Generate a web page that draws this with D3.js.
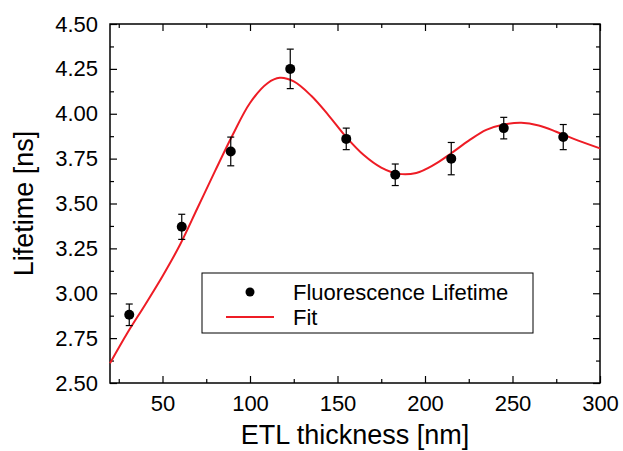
<!DOCTYPE html>
<html>
<head>
<meta charset="utf-8">
<script src="https://cdn.jsdelivr.net/npm/d3@7"></script>
<style>
  body { margin: 0; background: #fff; }
  svg text { font-family: "Liberation Sans", Arial, sans-serif; fill: #000; }
</style>
</head>
<body>
<svg id="chart" width="623" height="451"></svg>
<script>
const thickness = [31, 61, 89, 123, 155, 183, 215, 245, 279];
const lifetime = [2.88, 3.37, 3.79, 4.25, 3.86, 3.66, 3.75, 3.92, 3.87];
const lifetimeErr = [0.06, 0.07, 0.08, 0.11, 0.06, 0.06, 0.09, 0.06, 0.07];

// fit curve
const fitX = [20, 30, 40, 50, 60, 70, 80, 90, 100, 110, 117, 125, 135, 145, 155, 165, 175, 185, 195, 205, 215, 225, 235, 245, 255, 265, 275, 285, 300];
const fitY = [2.61, 2.78, 2.935, 3.095, 3.27, 3.475, 3.68, 3.88, 4.06, 4.17, 4.20, 4.18, 4.10, 3.99, 3.87, 3.77, 3.70, 3.665, 3.67, 3.715, 3.78, 3.85, 3.91, 3.94, 3.95, 3.935, 3.90, 3.86, 3.807];

const xTicks = [50, 100, 150, 200, 250, 300];
const xMinor = [25, 75, 125, 175, 225, 275];
const yTicks = [2.5, 2.75, 3.0, 3.25, 3.5, 3.75, 4.0, 4.25, 4.5];
const yMinor = [2.625, 2.875, 3.125, 3.375, 3.625, 3.875, 4.125, 4.375];

const margin = {top: 24, right: 23, bottom: 68, left: 110};
const width = 623 - margin.left - margin.right;
const height = 451 - margin.top - margin.bottom;

const svg = d3.select('#chart');
const chart = svg.append('g')
    .attr('transform', `translate(${margin.left}, ${margin.top})`);

const xScale = d3.scaleLinear().domain([20, 300]).range([0, width]);
const yScale = d3.scaleLinear().domain([2.5, 4.5]).range([height, 0]);

// frame + inward ticks on all four sides
function tickAxis(axis, values, size, labels) {
  return axis.tickValues(values).tickSizeInner(-size).tickSizeOuter(0)
    .tickPadding(labels ? 12 : 0)
    .tickFormat(labels ? labels : () => '');
}

chart.append('g').attr('transform', `translate(0, ${height})`)
  .call(tickAxis(d3.axisBottom(xScale), xTicks, 7, d3.format('d')));
chart.append('g').attr('transform', `translate(0, ${height})`)
  .call(tickAxis(d3.axisBottom(xScale), xMinor, 4));
chart.append('g').call(tickAxis(d3.axisTop(xScale), xTicks, 7));
chart.append('g').call(tickAxis(d3.axisTop(xScale), xMinor, 4));

chart.append('g')
  .call(tickAxis(d3.axisLeft(yScale), yTicks, 7, d3.format('.2f')));
chart.append('g').call(tickAxis(d3.axisLeft(yScale), yMinor, 4));
chart.append('g').attr('transform', `translate(${width}, 0)`)
  .call(tickAxis(d3.axisRight(yScale), yTicks, 7));
chart.append('g').attr('transform', `translate(${width}, 0)`)
  .call(tickAxis(d3.axisRight(yScale), yMinor, 4));

chart.selectAll('.domain').remove();
chart.selectAll('.tick line').attr('stroke', '#000').attr('stroke-width', 1.2);
chart.selectAll('.tick text').style('font-size', '22px').attr('fill', '#000');

chart.append('rect')
  .attr('width', width).attr('height', height)
  .attr('fill', 'none').attr('stroke', '#000').attr('stroke-width', 1.5);

// fit line
const line = d3.line()
  .x((d, i) => xScale(fitX[i]))
  .y(d => yScale(d))
  .curve(d3.curveCatmullRom.alpha(0.5));

chart.append('path')
  .datum(fitY)
  .attr('d', line)
  .attr('fill', 'none')
  .attr('stroke', '#ee1c25')
  .attr('stroke-width', 2);

// error bars
const pts = thickness.map((t, i) => ({x: t, y: lifetime[i], e: lifetimeErr[i]}));
const eb = chart.append('g').selectAll('g').data(pts).enter().append('g')
  .attr('stroke', '#000').attr('stroke-width', 1.2);
eb.append('line')
  .attr('x1', d => xScale(d.x)).attr('x2', d => xScale(d.x))
  .attr('y1', d => yScale(d.y - d.e)).attr('y2', d => yScale(d.y + d.e));
eb.append('line')
  .attr('x1', d => xScale(d.x) - 3.5).attr('x2', d => xScale(d.x) + 3.5)
  .attr('y1', d => yScale(d.y + d.e)).attr('y2', d => yScale(d.y + d.e));
eb.append('line')
  .attr('x1', d => xScale(d.x) - 3.5).attr('x2', d => xScale(d.x) + 3.5)
  .attr('y1', d => yScale(d.y - d.e)).attr('y2', d => yScale(d.y - d.e));

chart.append('g').selectAll('circle').data(pts).enter().append('circle')
  .attr('cx', d => xScale(d.x))
  .attr('cy', d => yScale(d.y))
  .attr('r', 5)
  .style('fill', '#000');

// legend
const legend = svg.append('g');
legend.append('rect')
  .attr('x', 202).attr('y', 273).attr('width', 331).attr('height', 60)
  .attr('fill', '#fff').attr('stroke', '#000').attr('stroke-width', 1);
legend.append('circle').attr('cx', 250).attr('cy', 292).attr('r', 4.5).style('fill', '#000');
legend.append('line')
  .attr('x1', 226).attr('x2', 274).attr('y1', 317).attr('y2', 317)
  .attr('stroke', '#ee1c25').attr('stroke-width', 2);
legend.append('text').attr('x', 293).attr('y', 300)
  .style('font-size', '22px').text('Fluorescence Lifetime');
legend.append('text').attr('x', 293).attr('y', 325)
  .style('font-size', '22px').text('Fit');

// axis titles
svg.append('text')
  .attr('x', margin.left + width / 2)
  .attr('y', 444)
  .attr('text-anchor', 'middle')
  .style('font-size', '27px')
  .text('ETL thickness [nm]');

svg.append('text')
  .attr('transform', `translate(33, ${margin.top + height / 2}) rotate(-90)`)
  .attr('text-anchor', 'middle')
  .style('font-size', '27px')
  .text('Lifetime [ns]');
</script>
</body>
</html>
